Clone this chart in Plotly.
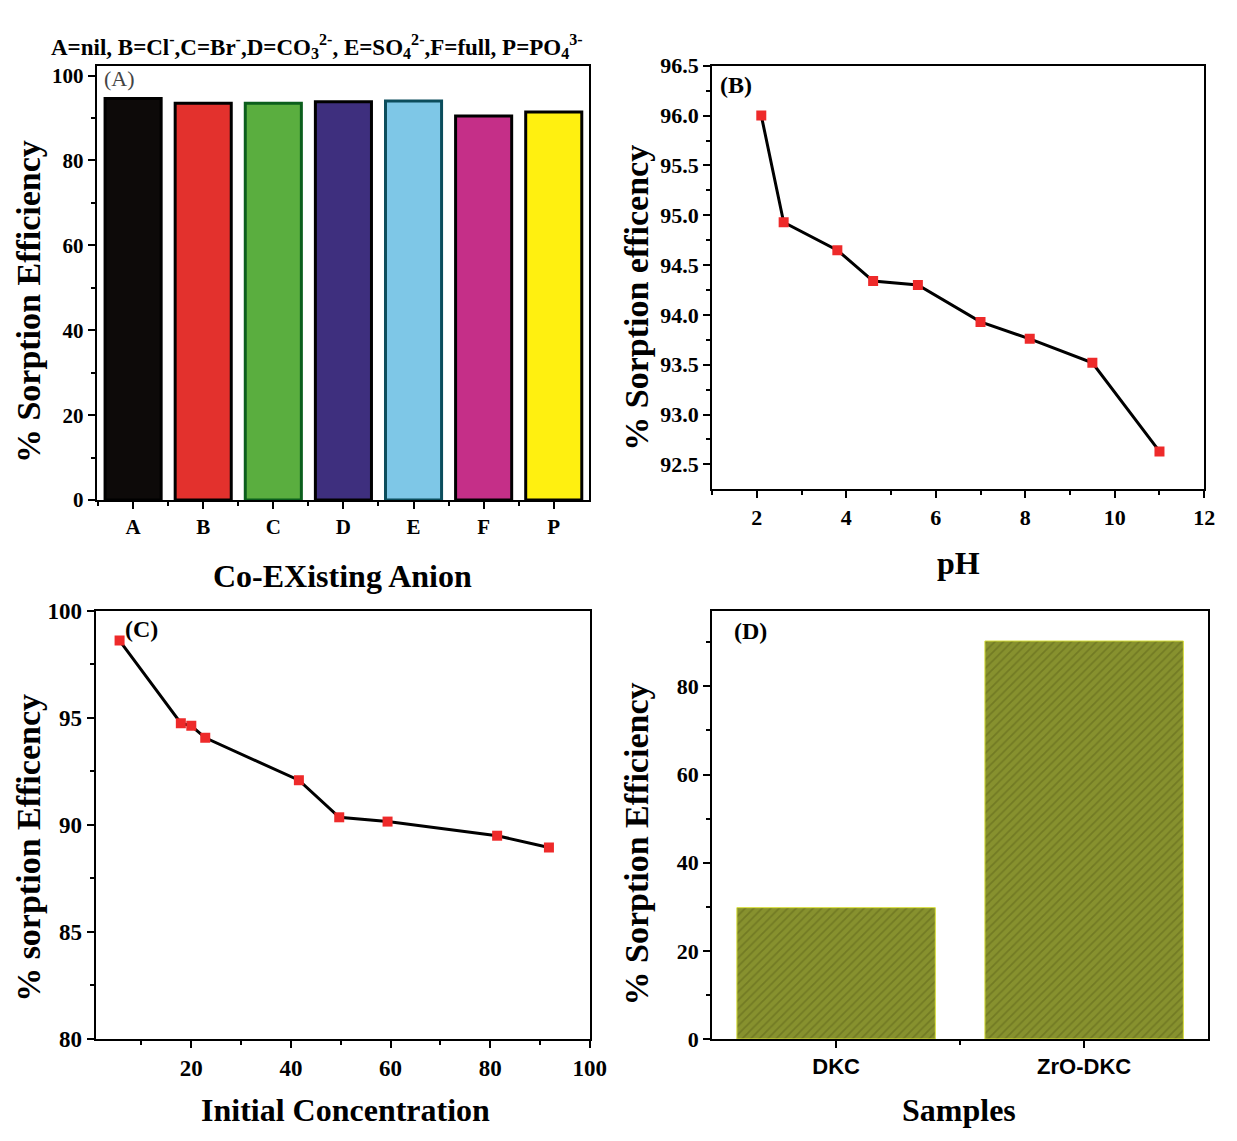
import plotly.graph_objects as go

W, H = 1237, 1141

# ---------------- data ----------------
anion_labels = ["A", "B", "C", "D", "E", "F", "P"]
anion_eff = [94.6, 93.5, 93.5, 93.8, 94.0, 90.5, 91.4]
anion_colors = ["#0d0a09", "#e3312d", "#5aae3f", "#3e2f7e", "#7ec7e7", "#c52f88", "#fff010"]
anion_edges = ["#000000", "#000000", "#0b5e1c", "#000000", "#0b4d5c", "#000000", "#000000"]

ph_values = [2.1, 2.6, 3.8, 4.6, 5.6, 7.0, 8.1, 9.5, 11.0]
ph_eff = [96.0, 94.93, 94.65, 94.34, 94.30, 93.93, 93.76, 93.52, 92.63]

conc_values = [5.6, 17.9, 20.0, 22.8, 41.6, 49.7, 59.4, 81.4, 91.8]
conc_eff = [98.6, 94.74, 94.62, 94.06, 92.08, 90.35, 90.15, 89.49, 88.94]

sample_labels = ["DKC", "ZrO-DKC"]
sample_eff = [29.8, 90.3]

# ---------------- helpers ----------------
def px(x):
    return x / W

def py(y):
    return 1 - y / H

SERIF = "Liberation Serif"
SANS = "Liberation Sans"

def tf(size, family=SERIF):
    return dict(family=family, size=size, color="black", weight="bold")

fig = go.Figure()

# Panel A bars
fig.add_trace(go.Bar(
    x=list(range(len(anion_labels))), y=anion_eff, width=0.8,
    marker=dict(color=anion_colors, line=dict(color=anion_edges, width=3)),
    xaxis="x", yaxis="y", showlegend=False))

# Panel B line
fig.add_trace(go.Scatter(
    x=ph_values, y=ph_eff, mode="lines+markers",
    line=dict(color="black", width=3),
    marker=dict(symbol="square", color="#ee2a2a", size=10),
    xaxis="x2", yaxis="y2", showlegend=False))

# Panel C line
fig.add_trace(go.Scatter(
    x=conc_values, y=conc_eff, mode="lines+markers",
    line=dict(color="black", width=3),
    marker=dict(symbol="square", color="#ee2a2a", size=10),
    xaxis="x3", yaxis="y3", showlegend=False))

# Panel D bars
fig.add_trace(go.Bar(
    x=[0, 1], y=sample_eff, width=0.8,
    marker=dict(color="#7e8828", line=dict(color="#d8df3a", width=1),
                pattern=dict(shape="/", fgcolor="#5d6419", bgcolor="#87912e",
                             size=6, solidity=0.3)),
    xaxis="x4", yaxis="y4", showlegend=False))

def axis_common(size, family=SERIF):
    return dict(showline=True, linecolor="black", linewidth=2, mirror=True,
                ticks="outside", ticklen=7, tickwidth=2, tickcolor="black",
                showgrid=False, zeroline=False, tickfont=tf(size, family))

# domains (pixel-based)
A_x = [px(98), px(597)]; A_y = [py(499), py(55)]
B_x = [px(722), px(1221)]; B_y = [py(488), py(55)]
C_x = [px(97), px(598)]; C_y = [py(1050), py(612)]
D_x = [px(722), px(1225)]; D_y = [py(1050), py(612)]

minor_common = dict(ticks="outside", ticklen=4, tickwidth=1.5, tickcolor="black")

fig.update_layout(
    width=W, height=H, margin=dict(l=0, r=0, t=0, b=0),
    paper_bgcolor="white", plot_bgcolor="white",
    xaxis=dict(axis_common(21), domain=A_x, anchor="y", range=[-0.52, 6.5],
               tickmode="array", tickvals=list(range(7)), ticktext=anion_labels,
               minor=dict(minor_common, tickmode="array",
                          tickvals=[-0.5, 0.5, 1.5, 2.5, 3.5, 4.5, 5.5])),
    yaxis=dict(axis_common(21), domain=A_y, anchor="x", range=[0, 102.3],
               tickmode="array", tickvals=[0, 20, 40, 60, 80, 100],
               minor=dict(minor_common, tickmode="array",
                          tickvals=[10, 30, 50, 70, 90])),
    xaxis2=dict(axis_common(22), domain=B_x, anchor="y2", range=[1, 12],
                tickmode="array", tickvals=[2, 4, 6, 8, 10, 12],
                minor=dict(minor_common, tickmode="array",
                           tickvals=[1, 3, 5, 7, 9, 11])),
    yaxis2=dict(axis_common(22), domain=B_y, anchor="x2", range=[92.25, 96.5],
                tickmode="array",
                tickvals=[92.5, 93.0, 93.5, 94.0, 94.5, 95.0, 95.5, 96.0, 96.5],
                tickformat=".1f",
                minor=dict(minor_common, tickmode="array",
                           tickvals=[92.75, 93.25, 93.75, 94.25, 94.75, 95.25, 95.75, 96.25])),
    xaxis3=dict(axis_common(23), domain=C_x, anchor="y3", range=[0.8, 100],
                tickmode="array", tickvals=[20, 40, 60, 80, 100],
                minor=dict(minor_common, tickmode="array",
                           tickvals=[10, 30, 50, 70, 90])),
    yaxis3=dict(axis_common(23), domain=C_y, anchor="x3", range=[80, 100],
                tickmode="array", tickvals=[80, 85, 90, 95, 100],
                minor=dict(minor_common, tickmode="array",
                           tickvals=[82.5, 87.5, 92.5, 97.5])),
    xaxis4=dict(axis_common(22, SANS), domain=D_x, anchor="y4", range=[-0.5, 1.5],
                tickmode="array", tickvals=[0, 1], ticktext=sample_labels,
                minor=dict(minor_common, tickmode="array", tickvals=[0.5])),
    yaxis4=dict(axis_common(22), domain=D_y, anchor="x4", range=[0, 97.2],
                tickmode="array", tickvals=[0, 20, 40, 60, 80],
                minor=dict(minor_common, tickmode="array",
                           tickvals=[10, 30, 50, 70, 90])),
)

ann = []

def add_text(text, x, y, font, xanchor="center", yanchor="middle", angle=0):
    ann.append(dict(text=text, x=px(x), y=py(y), xref="paper", yref="paper",
                    showarrow=False, font=font, xanchor=xanchor, yanchor=yanchor,
                    textangle=angle))

ytitle = dict(family=SERIF, size=34, color="black")
xtitle = dict(family=SERIF, size=32, color="black")

# header over panel A
add_text("<b>A=nil, B=Cl<sup>-</sup>,C=Br<sup>-</sup>,D=CO<sub>3</sub><sup>2-</sup>, "
         "E=SO<sub>4</sub><sup>2-</sup>,F=full, P=PO<sub>4</sub><sup>3-</sup></b>",
         321, 35, dict(family=SERIF, size=23, color="black"))

# axis titles
add_text("<b>% Sorption Efficiency</b>", 29, 296, ytitle, angle=-90)
add_text("<b>Co-EXisting Anion</b>", 347, 577, xtitle)
add_text("<b>% Sorption efficency</b>", 645, 292, ytitle, angle=-90)
add_text("<b>pH</b>", 972, 563, xtitle)
add_text("<b>% sorption Efficency</b>", 29, 855, ytitle, angle=-90)
add_text("<b>Initial Concentration</b>", 350, 1123, xtitle)
add_text("<b>% Sorption Efficiency</b>", 645, 851, ytitle, angle=-90)
add_text("<b>Samples</b>", 972, 1123, xtitle)

# panel labels
add_text("(A)", 103, 68, dict(family=SERIF, size=22, color="#444444"), xanchor="left")
add_text("<b>(B)</b>", 728, 75, dict(family=SERIF, size=24, color="black"), xanchor="left")
add_text("<b>(C)</b>", 125, 631, dict(family=SERIF, size=24, color="black"), xanchor="left")
add_text("<b>(D)</b>", 742, 633, dict(family=SERIF, size=24, color="black"), xanchor="left")

fig.update_layout(annotations=ann)

fig.write_html("out.html")
